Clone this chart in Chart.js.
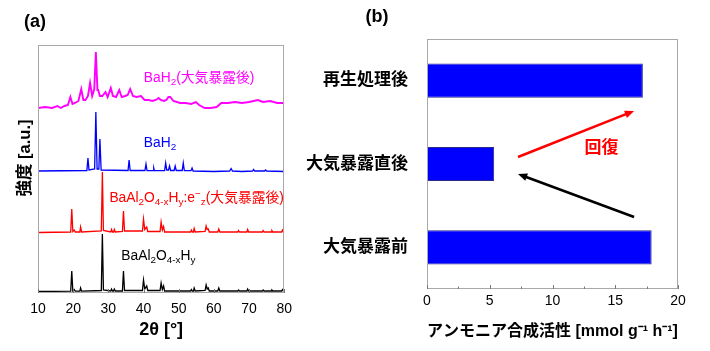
<!DOCTYPE html>
<html lang="ja">
<head>
<meta charset="UTF-8">
<title>XRD and NH3 activity</title>
<script src="https://cdn.jsdelivr.net/npm/chart.js"></script>
<style>
  body { margin: 0; background: #fff; }
  #wrap { position: relative; width: 710px; height: 351px; }
  canvas { position: absolute; top: 0; }
  #xrd { left: 0; }
  #act { left: 300px; }
</style>
</head>
<body>
<div id="wrap">
  <canvas id="xrd" width="300" height="351"></canvas>
  <canvas id="act" width="410" height="351"></canvas>
</div>
<script>
// ---- (a) XRD patterns, intensity in arbitrary units (stacked, already offset) ----
const blackX = [10, 19.3, 19.6, 19.9, 20.3, 20.6, 21.9, 22.1, 22.4, 28.0, 28.3, 28.6, 30.7, 30.9, 31.2, 31.5, 31.7, 32.0,
  34.0, 34.3, 34.6, 39.7, 40.0, 40.35, 40.9, 41.2, 44.7, 45.0, 45.35, 45.7, 46.0, 53.4, 53.6, 53.9, 54.2, 54.4, 54.7,
  57.5, 57.8, 58.1, 58.4, 58.7, 61.1, 61.4, 61.7, 66.8, 67.0, 67.3, 69.4, 69.6, 69.9, 73.8, 74.0, 74.3, 76.3, 76.5, 76.8,
  79.3, 79.5, 79.8, 80];
const blackY = [1.5, 1.8, 22, 2, 3.5, 1.8, 1.8, 5, 1.8, 2.5, 59, 3, 2, 4, 2, 2, 4, 2,
  2, 22, 2.5, 2.5, 13, 4, 7, 2.5, 2.5, 10, 3.5, 7, 2, 2, 3.5, 2, 2, 5, 2,
  2.5, 8, 4, 5, 2, 2, 5, 2, 2, 3, 2, 2, 4, 2, 2, 3, 2, 2, 3, 2,
  2, 3.5, 2, 1.8];

const redX = blackX;
const redY = [60.5, 61, 84, 61.5, 63, 61, 61, 66, 61, 62, 121, 62.5, 61, 63.5, 61, 61, 63.5, 61,
  61.5, 82, 62, 62, 74, 63.5, 66, 61.5, 61.5, 71, 63, 66.5, 61, 61, 63, 61, 61, 64.5, 61,
  61.5, 67, 63.5, 64, 61, 61, 64, 61, 61, 62.5, 61, 61, 63.5, 61, 61, 62.5, 61, 61, 62.5, 61,
  61, 63, 61, 60.5];

const blueX = [10, 23.9, 24.2, 24.5, 26.1, 26.45, 26.8, 27.3, 27.6, 27.95, 35.6, 35.9, 36.2, 40.4, 40.7, 41.0,
  42.7, 42.9, 43.1, 46.0, 46.3, 46.6, 47.1, 47.4, 47.7, 48.7, 49.0, 49.3, 51.0, 51.3, 51.6, 53.5, 53.8, 54.1,
  60, 64.5, 64.9, 65.3, 68, 71.0, 71.3, 71.6, 74.4, 74.7, 75, 80];
const blueY = [122, 122.5, 135, 123, 124, 181, 124, 124, 154, 123, 122.5, 133, 122.5, 122.5, 129, 122.5,
  122.3, 125, 122.3, 122.5, 130, 123, 123, 127, 122.5, 122.5, 127, 122.5, 122.5, 130, 122.5, 122.3, 125, 122,
  121.5, 122, 124.5, 122, 121.5, 122, 123.5, 122, 122, 123, 122, 121.5];

const pinkX = [10, 12, 14, 15.5, 16.5, 17.5, 18.5, 19.2, 19.8, 20.5, 21.5, 22.3, 22.9, 23.5, 24.2, 24.8, 25.4, 26.0,
  26.45, 26.9, 27.1, 27.6, 28.3, 29.2, 29.8, 30.7, 31.3, 32.2, 33.1, 33.8, 34.8, 35.5, 36.2, 37, 38, 39.3,
  40.3, 41.5, 42.5, 43.5, 44.3, 44.9, 45.8, 46.5, 47.1, 47.6, 48.5, 50.4, 52, 53.5, 54.9, 55.8, 57.4, 59,
  60.8, 62.1, 64, 66, 68, 70, 72.5, 74, 76, 78, 80];
const pinkY = [185, 186, 185, 187, 185, 187, 188, 196, 189, 190, 192, 204, 193, 193, 197, 210, 197, 204,
  241, 203, 203, 197, 197, 201, 196, 205, 197, 196, 203, 196, 197, 198, 204, 197, 196, 197,
  193, 193, 192, 193, 195, 193, 192, 193, 196, 196, 192, 190, 190, 189, 191, 188, 185, 185,
  186, 190, 190, 191, 190, 191, 193, 191, 192, 190, 190];

const xTicksA = [10, 20, 30, 40, 50, 60, 70, 80];

// ---- (b) ammonia synthesis activity ----
const stages = ['再生処理後', '大気暴露直後', '大気暴露前'];
const activity = [17.2, 5.35, 17.9];
const xTicksB = [0, 5, 10, 15, 20];

const FONT = "'Liberation Sans', Arial, 'Noto Sans CJK JP', sans-serif";
Chart.defaults.font.family = FONT;
Chart.defaults.color = '#000';

function pts(xs, ys) { return xs.map((x, i) => ({x: x, y: ys[i]})); }

function drawRich(ctx, parts, x, y, size, color) {
  ctx.fillStyle = color;
  ctx.textBaseline = 'middle';
  ctx.textAlign = 'left';
  let cx = x;
  parts.forEach(([t, mode]) => {
    let s = size, dy = 0;
    if (mode === 'sub') { s = size * 0.72; dy = size * 0.32; }
    if (mode === 'sup') { s = size * 0.72; dy = -size * 0.3; }
    ctx.font = s + 'px ' + FONT;
    ctx.fillText(t, cx, y + dy);
    cx += ctx.measureText(t).width;
  });
}

function frame(chart, scale, majors, minors) {
  const {ctx, chartArea: a} = chart;
  ctx.save();
  ctx.strokeStyle = '#a8a8a8';
  ctx.lineWidth = 1;
  ctx.strokeRect(Math.round(a.left) + 0.5, Math.round(a.top) + 0.5,
    Math.round(a.right - a.left) - 1, Math.round(a.bottom - a.top) - 1);
  ctx.strokeStyle = '#777';
  ctx.beginPath();
  majors.forEach(v => {
    const px = Math.round(scale.getPixelForValue(v)) + 0.5;
    ctx.moveTo(px, a.bottom); ctx.lineTo(px, a.bottom - 4);
  });
  minors.forEach(v => {
    const px = Math.round(scale.getPixelForValue(v)) + 0.5;
    ctx.moveTo(px, a.bottom); ctx.lineTo(px, a.bottom - 2.5);
  });
  ctx.stroke();
  ctx.restore();
}

const xrdDecor = {
  id: 'xrdDecor',
  afterDatasetsDraw(chart) {
    const {ctx, scales: {x, y}} = chart;
    frame(chart, x, xTicksA, []);
    ctx.save();
    drawRich(ctx, [['BaH', ''], ['2', 'sub'], ['(大気暴露後)', '']], x.getPixelForValue(40.1), y.getPixelForValue(215), 13.8, '#ff00ff');
    drawRich(ctx, [['BaH', ''], ['2', 'sub']], x.getPixelForValue(40.1), y.getPixelForValue(150), 13.8, '#0000ff');
    drawRich(ctx, [['BaAl', ''], ['2', 'sub'], ['O', ''], ['4-x', 'sub'], ['H', ''], ['y', 'sub'], [':e', ''], ['−', 'sup'], ['z', 'sub'], ['(大気暴露後)', '']],
      x.getPixelForValue(30.3), y.getPixelForValue(95), 13.8, '#ff0000');
    drawRich(ctx, [['BaAl', ''], ['2', 'sub'], ['O', ''], ['4-x', 'sub'], ['H', ''], ['y', 'sub']],
      x.getPixelForValue(33.7), y.getPixelForValue(37), 13.8, '#000');
    // panel letter and y title
    ctx.fillStyle = '#000';
    ctx.font = 'bold 18px ' + FONT;
    ctx.textAlign = 'center';
    ctx.textBaseline = 'middle';
    ctx.fillText('(a)', 35, 22);
    ctx.translate(25, 158);
    ctx.rotate(-Math.PI / 2);
    ctx.font = 'bold 16.5px ' + FONT;
    ctx.fillText('強度 [a.u.]', 0, 0);
    ctx.restore();
  }
};

new Chart(document.getElementById('xrd'), {
  type: 'line',
  data: {
    datasets: [
      {data: pts(blackX, blackY), borderColor: '#000', borderWidth: 1.3},
      {data: pts(redX, redY), borderColor: '#ff0000', borderWidth: 1.3},
      {data: pts(blueX, blueY), borderColor: '#0000ff', borderWidth: 1.3},
      {data: pts(pinkX, pinkY), borderColor: '#ff00ff', borderWidth: 1.9}
    ]
  },
  options: {
    responsive: false,
    animation: false,
    devicePixelRatio: 1,
    elements: {point: {radius: 0}, line: {tension: 0}},
    layout: {padding: {left: 0, top: 45, right: 11, bottom: 0}},
    plugins: {legend: {display: false}, tooltip: {enabled: false}},
    scales: {
      x: {
        type: 'linear', min: 10, max: 80,
        afterBuildTicks: s => { s.ticks = xTicksA.map(v => ({value: v})); },
        afterFit: s => { s.height = 58; },
        grid: {display: false, drawTicks: false},
        border: {display: false},
        ticks: {font: {size: 14}, padding: 8, maxRotation: 0},
        title: {display: true, text: '2θ [°]', font: {size: 18, weight: 'bold'}, padding: {top: 0, bottom: 10}}
      },
      y: {
        min: 0, max: 248,
        afterFit: s => { s.width = 38; },
        grid: {display: false, drawTicks: false},
        border: {display: false},
        ticks: {display: false}
      }
    }
  },
  plugins: [xrdDecor]
});

function arrow(ctx, x1, y1, x2, y2, color) {
  const ang = Math.atan2(y2 - y1, x2 - x1);
  const head = 10;
  ctx.strokeStyle = color; ctx.fillStyle = color; ctx.lineWidth = 2.5;
  ctx.beginPath();
  ctx.moveTo(x1, y1);
  ctx.lineTo(x2 - Math.cos(ang) * head * 0.8, y2 - Math.sin(ang) * head * 0.8);
  ctx.stroke();
  ctx.beginPath();
  ctx.moveTo(x2, y2);
  ctx.lineTo(x2 - head * Math.cos(ang - 0.4), y2 - head * Math.sin(ang - 0.4));
  ctx.lineTo(x2 - head * Math.cos(ang + 0.4), y2 - head * Math.sin(ang + 0.4));
  ctx.closePath();
  ctx.fill();
}

const actDecor = {
  id: 'actDecor',
  afterDatasetsDraw(chart) {
    const {ctx, scales: {x, y}} = chart;
    frame(chart, x, xTicksB, [2.5, 7.5, 12.5, 17.5]);
    ctx.save();
    arrow(ctx, x.getPixelForValue(7.25), y.getPixelForValue(0.916), x.getPixelForValue(16.5), y.getPixelForValue(0.364), '#ff0000');
    arrow(ctx, x.getPixelForValue(16.5), y.getPixelForValue(1.636), x.getPixelForValue(7.25), y.getPixelForValue(1.12), '#000');
    ctx.fillStyle = '#ff0000';
    ctx.font = 'bold 17px ' + FONT;
    ctx.textAlign = 'center';
    ctx.textBaseline = 'middle';
    ctx.fillText('回復', x.getPixelForValue(13.9), y.getPixelForValue(0.81));
    ctx.fillStyle = '#000';
    ctx.font = 'bold 18px ' + FONT;
    ctx.fillText('(b)', 77, 17);
    ctx.restore();
  }
};

new Chart(document.getElementById('act'), {
  type: 'bar',
  data: {
    labels: stages,
    datasets: [{
      data: activity,
      backgroundColor: '#0000ff',
      borderColor: '#2a2a8a',
      borderWidth: 1,
      categoryPercentage: 1,
      barPercentage: 0.41
    }]
  },
  options: {
    indexAxis: 'y',
    responsive: false,
    animation: false,
    devicePixelRatio: 1,
    layout: {padding: {left: 0, top: 39, right: 32, bottom: 0}},
    plugins: {legend: {display: false}, tooltip: {enabled: false}},
    scales: {
      x: {
        min: 0, max: 20,
        afterBuildTicks: s => { s.ticks = xTicksB.map(v => ({value: v})); },
        afterFit: s => { s.height = 62; },
        grid: {display: false, drawTicks: false},
        border: {display: false},
        ticks: {font: {size: 14}, padding: 4, maxRotation: 0},
        title: {display: true, text: 'アンモニア合成活性 [mmol g⁻¹ h⁻¹]', font: {size: 16, weight: 'bold'}, padding: {top: 0, bottom: 10}}
      },
      y: {
        afterFit: s => { s.width = 127; },
        grid: {display: false, drawTicks: false},
        border: {display: false},
        ticks: {font: {size: 17, weight: 'bold'}, padding: 19}
      }
    }
  },
  plugins: [actDecor]
});
</script>
</body>
</html>
